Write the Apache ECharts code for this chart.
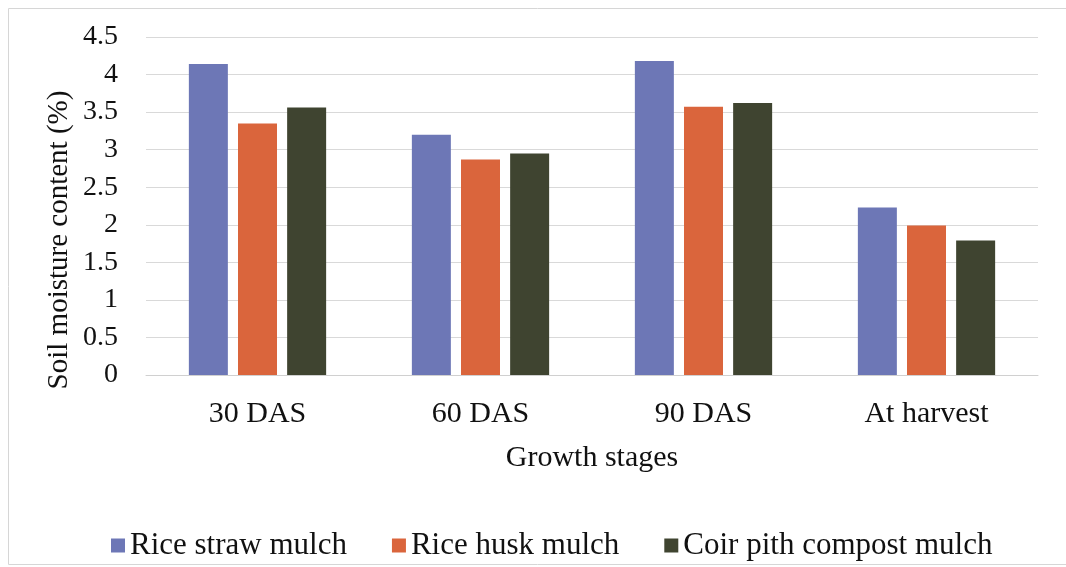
<!DOCTYPE html>
<html>
<head>
<meta charset="utf-8">
<script src="https://cdn.jsdelivr.net/npm/echarts@6/dist/echarts.min.js"></script>
<style>html,body{margin:0;padding:0;background:#fff}#c{width:1066px;height:567px}</style>
</head>
<body>
<div id="c"></div>
<script>
const categories = ['30 DAS', '60 DAS', '90 DAS', 'At harvest'];
const riceStraw = [4.14, 3.20, 4.18, 2.23];
const riceHusk = [3.35, 2.87, 3.57, 1.99];
const coirPith = [3.56, 2.95, 3.62, 1.79];
const yTicks = { min: 0, max: 4.5, interval: 0.5 };
const yTitle = 'Soil moisture content (%)';

const font = 'Liberation Serif, Times New Roman, serif';
const chart = echarts.init(document.getElementById('c'));
chart.setOption({
  animation: false,
  backgroundColor: '#fff',
  graphic: [{
    type: 'rect', left: 6, top: 6,
    shape: { width: 1058, height: 556 },
    style: { fill: 'none', stroke: '#d6d6d6', lineWidth: 1 }
  }, {
    type: 'text', x: 59, y: 240, rotation: Math.PI / 2,
    style: { text: yTitle, fontFamily: font, fontSize: 29, fill: '#111', align: 'center', verticalAlign: 'middle' }
  }],
  grid: { left: 146, right: 28, top: 37, bottom: 192 },
  legend: {
    top: 525, left: 106,
    itemWidth: 14, itemHeight: 14, itemGap: 45,
    icon: 'rect',
    textStyle: { fontFamily: font, fontSize: 31, color: '#111' },
    data: ['Rice straw mulch', 'Rice husk mulch', 'Coir pith compost mulch']
  },
  xAxis: {
    type: 'category', data: categories,
    name: 'Growth stages', nameLocation: 'middle', nameGap: 68,
    nameTextStyle: { fontFamily: font, fontSize: 30, color: '#111' },
    axisLine: { lineStyle: { color: '#d0d0d0', width: 1 } },
    axisTick: { show: false },
    axisLabel: { fontFamily: font, fontSize: 30, color: '#111', margin: 24 }
  },
  yAxis: {
    type: 'value', min: yTicks.min, max: yTicks.max, interval: yTicks.interval,
    axisLine: { show: false }, axisTick: { show: false },
    splitLine: { lineStyle: { color: '#d9d9d9', width: 1 } },
    axisLabel: { fontFamily: font, fontSize: 28, color: '#111', margin: 28 }
  },
  series: [
    { name: 'Rice straw mulch', type: 'bar', data: riceStraw, barWidth: 39, barGap: '26%', itemStyle: { color: '#6d77b6' } },
    { name: 'Rice husk mulch', type: 'bar', data: riceHusk, barWidth: 39, barGap: '26%', itemStyle: { color: '#da653c' } },
    { name: 'Coir pith compost mulch', type: 'bar', data: coirPith, barWidth: 39, barGap: '26%', itemStyle: { color: '#3f4430' } }
  ]
});
</script>
</body>
</html>
